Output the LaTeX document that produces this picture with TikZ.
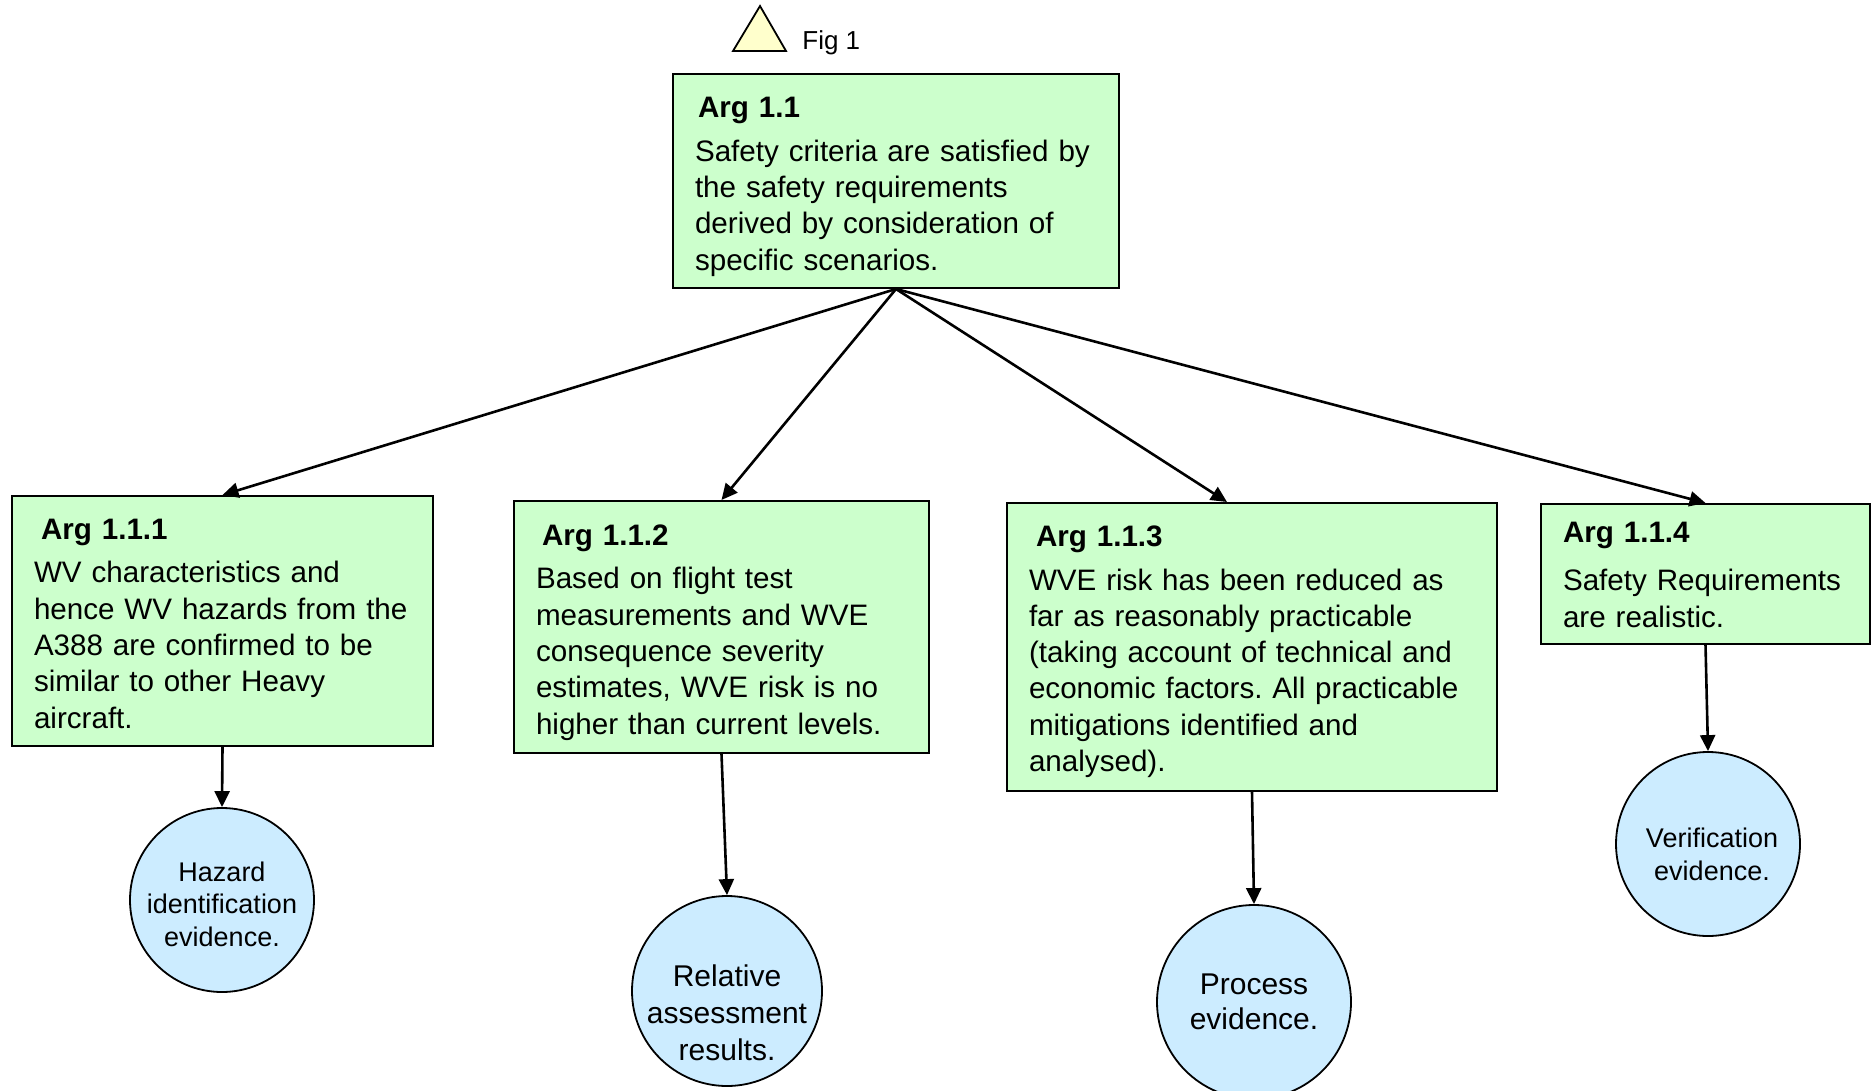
\documentclass[tikz,border=0pt]{standalone}
\usepackage{fontspec}
\setmainfont{Liberation Sans}
\usetikzlibrary{arrows.meta,calc}
\definecolor{argfill}{RGB}{204,255,204}
\definecolor{evfill}{RGB}{204,236,255}
\definecolor{figfill}{RGB}{255,255,204}
\frenchspacing

% [downward shift]{title}{title indent}{gap below title}{body lines}
\newcommand\argcontent[5][2.8pt]{%
  \raisebox{-#1}[\height][\depth]{%
  \begin{tabular}{@{}l@{}}\hspace*{#3}\textbf{#2}\\[#4]#5\end{tabular}}}

\begin{document}
\begin{tikzpicture}[x=0.5pt,y=-0.5pt,
  argbox/.style={draw=black, line width=1pt, fill=argfill, rectangle,
    inner xsep=11pt, inner ysep=0pt, align=left,
    font=\fontsize{14.8}{18.15}\selectfont},
  evidence/.style={draw=black, line width=0.9pt, fill=evfill, circle,
    inner sep=0pt},
  evtext/.style={align=center, inner sep=0pt},
  link/.style={line width=1.3pt, -{Triangle[length=8pt,width=7.5pt]}},
]
\useasboundingbox (0,0) rectangle (1872,1091);

% figure marker
\draw[fill=figfill, line width=0.9pt] (733,51) -- (760,6) -- (786,51) -- cycle;
\node[anchor=base west, inner sep=0pt, font=\fontsize{13}{15}\selectfont]
  (figlabel) at (802,50) {Fig 1};

% top-level argument
\node[argbox, minimum width=223pt, minimum height=107pt, text width=201pt]
  (top) at (896,181)
  {\argcontent{Arg 1.1}{1.5pt}{3.8pt}{Safety criteria are satisfied by\\
   the safety requirements\\derived by consideration of\\specific scenarios.}};

% sub-arguments
\node[argbox, minimum width=210.5pt, minimum height=125pt, text width=188.5pt]
  (b1) at (222.5,621)
  {\argcontent{Arg 1.1.1}{3.5pt}{3.4pt}{WV characteristics and\\
   hence WV hazards from the\\A388 are confirmed to be\\
   similar to other Heavy\\aircraft.}};

\node[argbox, minimum width=207.5pt, minimum height=126pt, text width=185.5pt]
  (b2) at (721.5,627)
  {\argcontent{Arg 1.1.2}{3pt}{3.4pt}{Based on flight test\\
   measurements and WVE\\consequence severity\\
   estimates, WVE risk is no\\higher than current levels.}};

\node[argbox, minimum width=245pt, minimum height=144pt, text width=223pt]
  (b3) at (1252,647)
  {\argcontent[2.5pt]{Arg 1.1.3}{3.5pt}{3.4pt}{WVE risk has been reduced as\\
   far as reasonably practicable\\(taking account of technical and\\
   economic factors. All practicable\\mitigations identified and\\
   analysed).}};

\node[argbox, minimum width=164.5pt, minimum height=70pt, text width=142.5pt]
  (b4) at (1705.5,574)
  {\argcontent[1.8pt]{Arg 1.1.4}{0pt}{5.8pt}{Safety Requirements\\[0.5pt]are realistic.}};

% evidence
\node[evidence, minimum size=92pt] (c1) at (222,900) {};
\node[evtext, font=\fontsize{13.5}{16.3}\selectfont] (c1t) at (222,904)
  {Hazard\\identification\\evidence.};

\node[evidence, minimum size=95pt] (c2) at (727,991) {};
\node[evtext, font=\fontsize{15}{18.6}\selectfont] (c2t) at (727,1013)
  {Relative\\assessment\\results.};

\node[evidence, minimum size=97pt] (c3) at (1254,1002) {};
\node[evtext, font=\fontsize{15}{17.75}\selectfont] (c3t) at (1254,1002)
  {Process\\evidence.};

\node[evidence, minimum size=92pt] (c4) at (1708,844) {};
\node[evtext, font=\fontsize{13.5}{16.5}\selectfont] (c4t) at (1712,854)
  {Verification\\evidence.};

% connectors
\draw[link] (top.south) -- (b1.north);
\draw[link] (top.south) -- (b2.north);
\draw[link] (top.south) -- ($(b3.north)+(-25,0)$);
\draw[link] (top.south) -- (b4.north);

\draw[link] (b1.south) -- (c1.north);
\draw[link] (b2.south) -- (c2.north);
\draw[link] (b3.south) -- (c3.north);
\draw[link] (b4.south) -- (c4.north);
\end{tikzpicture}
\end{document}
